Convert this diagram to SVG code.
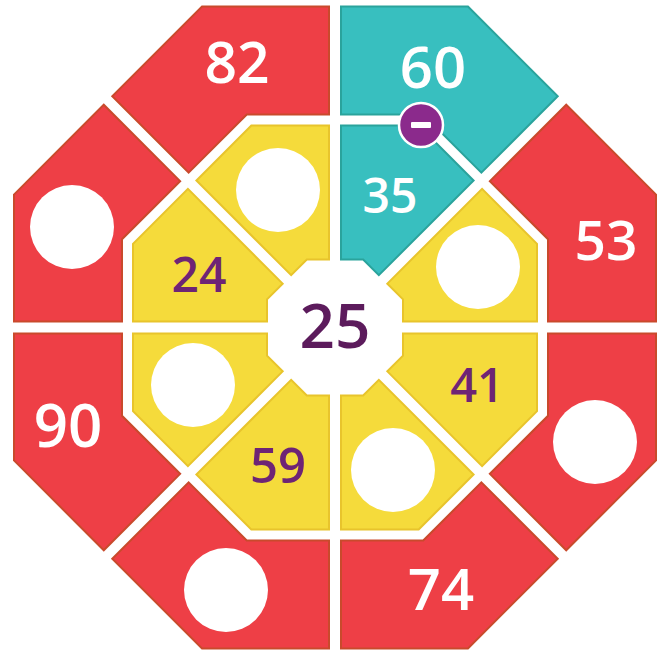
<svg xmlns="http://www.w3.org/2000/svg" width="667" height="650" viewBox="0 0 667 650">
<style>
.red{fill:#EE3F46;stroke:#C94A2C;stroke-width:2;stroke-linejoin:miter}
.yel{fill:#F5DB3B;stroke:#E8C42C;stroke-width:2}
.teal{fill:#38BFBF;stroke:#2AA39C;stroke-width:2}
.hole{fill:#FFFFFF}
text{font-family:"Open Sans","Noto Sans","DejaVu Sans",sans-serif;font-weight:600;text-anchor:middle}
.wt{fill:#FFFFFF}
.pt{fill:#6E2475}
.ct{fill:#5C1B5C}
</style>
<rect width="667" height="650" fill="#FFFFFF"/>
<g id="ring-nnw">
<polygon class="red" points="329,6.5 202.04,6.5 112.26,96.28 188.63,172.64 246.77,114.5 329,114.5"/>
<text class="wt" x="237" y="83" font-size="57">82</text>
</g>
<g id="ring-nne">
<polygon class="teal" points="341,6.5 467.96,6.5 557.74,96.28 481.37,172.64 423.23,114.5 341,114.5"/>
<text class="wt" x="433" y="88" font-size="58">60</text>
</g>
<g id="ring-wnw">
<polygon class="red" points="14,321.5 14,194.54 103.78,104.76 180.14,181.13 122,239.27 122,321.5"/>
<circle class="hole" cx="72" cy="227" r="42"/>
</g>
<g id="ring-ene">
<polygon class="red" points="656,321.5 656,194.54 566.22,104.76 489.86,181.13 548,239.27 548,321.5"/>
<text class="wt" x="606" y="260" font-size="55">53</text>
</g>
<g id="ring-wsw">
<polygon class="red" points="14,333.5 14,460.46 103.78,550.24 180.14,473.87 122,415.73 122,333.5"/>
<text class="wt" x="68" y="447" font-size="60">90</text>
</g>
<g id="ring-ese">
<polygon class="red" points="656,333.5 656,460.46 566.22,550.24 489.86,473.87 548,415.73 548,333.5"/>
<circle class="hole" cx="595" cy="442" r="42"/>
</g>
<g id="ring-ssw">
<polygon class="red" points="329,648.5 202.04,648.5 112.26,558.72 188.63,482.36 246.77,540.5 329,540.5"/>
<circle class="hole" cx="226" cy="590" r="42"/>
</g>
<g id="ring-sse">
<polygon class="red" points="341,648.5 467.96,648.5 557.74,558.72 481.37,482.36 423.23,540.5 341,540.5"/>
<text class="wt" x="441" y="610" font-size="58">74</text>
</g>
<g id="inner-nnw">
<polygon class="yel" points="329,125.5 251.33,125.5 196.41,180.42 291.16,275.17 306.83,259.5 329,259.5"/>
<circle class="hole" cx="278" cy="190" r="42"/>
</g>
<g id="inner-nne">
<polygon class="teal" points="341,125.5 418.67,125.5 473.59,180.42 378.84,275.17 363.17,259.5 341,259.5"/>
<text class="wt" x="390" y="213" font-size="48">35</text>
</g>
<g id="inner-wnw">
<polygon class="yel" points="133,321.5 133,243.83 187.92,188.91 282.67,283.66 267,299.33 267,321.5"/>
<text class="pt" x="199" y="292" font-size="48">24</text>
</g>
<g id="inner-ene">
<polygon class="yel" points="537,321.5 537,243.83 482.08,188.91 387.33,283.66 403,299.33 403,321.5"/>
<circle class="hole" cx="478" cy="267" r="42"/>
</g>
<g id="inner-wsw">
<polygon class="yel" points="133,333.5 133,411.17 187.92,466.09 282.67,371.34 267,355.67 267,333.5"/>
<circle class="hole" cx="193" cy="385" r="42"/>
</g>
<g id="inner-ese">
<polygon class="yel" points="537,333.5 537,411.17 482.08,466.09 387.33,371.34 403,355.67 403,333.5"/>
<text class="pt" x="477" y="402" font-size="47">41</text>
</g>
<g id="inner-ssw">
<polygon class="yel" points="329,529.5 251.33,529.5 196.41,474.58 291.16,379.83 306.83,395.5 329,395.5"/>
<text class="pt" x="278" y="483" font-size="49">59</text>
</g>
<g id="inner-sse">
<polygon class="yel" points="341,529.5 418.67,529.5 473.59,474.58 378.84,379.83 363.17,395.5 341,395.5"/>
<circle class="hole" cx="393" cy="470" r="42"/>
</g>
<g id="center">
<text class="ct" x="335" y="348" font-size="62">25</text>
</g>
<g id="minus-badge">
<circle cx="421" cy="125" r="22" fill="#8B2A8C" stroke="#FFFFFF" stroke-width="2.5"/>
<rect x="411" y="122" width="20" height="6" rx="1" fill="#FFFFFF"/>
</g>
</svg>
